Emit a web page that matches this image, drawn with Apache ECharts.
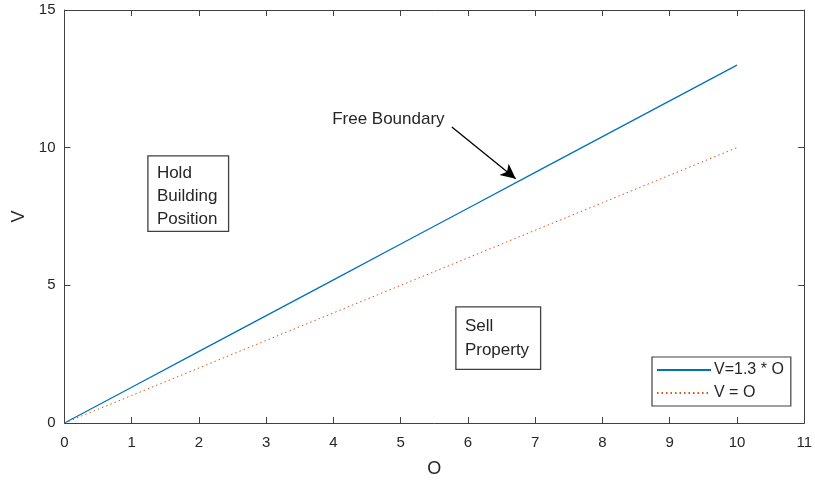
<!DOCTYPE html>
<html><head><meta charset="utf-8">
<script src="https://cdn.jsdelivr.net/npm/echarts@6/dist/echarts.min.js"></script>
<style>html,body{margin:0;padding:0;background:#fff}#c{width:815px;height:483px}</style>
</head><body><div id="c"></div>
<script>
var O = [0,1,2,3,4,5,6,7,8,9,10];
var V13 = [0,1.3,2.6,3.9,5.2,6.5,7.8,9.1,10.4,11.7,13];
var VO = [0,1,2,3,4,5,6,7,8,9,10];
var seriesNames = ['V=1.3 * O','V = O'];
var arrowFrom = [5.76,10.75], arrowTo = [6.71,8.87];
var freeLabelPos = [3.98,11.03];
var holdBox = [1.24,9.70,2.44,6.96];
var sellBox = [5.82,4.22,7.08,1.95];

var FONT = 'Liberation Sans, Arial, sans-serif';
var AX = '#262626';
var chart = echarts.init(document.getElementById('c'));
function pair(a,b){return a.map(function(v,i){return [v,b[i]];});}
function axisCommon(){ return {
  min:0, axisLine:{show:true,onZero:false,lineStyle:{color:'#404040',width:1}},
  axisTick:{show:true,inside:true,length:6,lineStyle:{color:'#404040'}},
  splitLine:{show:false}
};}
chart.setOption({
  animation:false,
  grid:{left:64.5,right:9.5,top:10,bottom:57,containLabel:false},
  xAxis:[
    Object.assign(axisCommon(),{type:'value',max:11,interval:1,position:'bottom',
      name:'O',nameLocation:'middle',nameGap:37,nameTextStyle:{color:AX,fontSize:18,fontFamily:FONT},
      axisLabel:{color:AX,fontSize:15,fontFamily:FONT,margin:12}}),
    Object.assign(axisCommon(),{type:'value',max:11,interval:1,position:'top',axisLabel:{show:false}})
  ],
  yAxis:[
    Object.assign(axisCommon(),{type:'value',max:15,interval:5,position:'left',
      name:'V',nameLocation:'middle',nameGap:35,nameTextStyle:{color:AX,fontSize:18,fontFamily:FONT},
      axisLabel:{color:AX,fontSize:15,fontFamily:FONT,margin:9}}),
    Object.assign(axisCommon(),{type:'value',max:15,interval:5,position:'right',axisLabel:{show:false}})
  ],
  legend:{
    show:true,orient:'vertical',left:652,top:357,
    data:seriesNames,
    backgroundColor:'#fff',
    borderColor:'#404040',borderWidth:1.2,borderRadius:0,
    padding:[5,7,5,4],itemGap:7,itemWidth:54,itemHeight:12,
    itemStyle:{opacity:0},
    textStyle:{color:AX,fontSize:16,fontFamily:FONT,padding:[0,0,0,-2]}
  },
  series:[
    {name:seriesNames[0],type:'line',data:pair(O,V13),symbol:'none',
      lineStyle:{color:'#0072BD',width:1.3},itemStyle:{color:'#0072BD'},
      markLine:{silent:true,symbol:['none','arrow'],symbolSize:[11,15],
        lineStyle:{color:'#000',width:1.3,type:'solid'},label:{show:false},
        data:[[{coord:arrowFrom},{coord:arrowTo}]]}},
    {name:seriesNames[1],type:'line',data:pair(O,VO),symbol:'none',
      lineStyle:{color:'#D95319',width:1,type:[1.5,3]},itemStyle:{color:'#D95319'}}
  ]
});
function px(p){return chart.convertToPixel({xAxisIndex:0,yAxisIndex:0},p);}
function box(b,lines,lh,pad){
  var a=px([b[0],b[1]]), c=px([b[2],b[3]]);
  return [
    {type:'rect',shape:{x:a[0],y:a[1],width:c[0]-a[0],height:c[1]-a[1]},style:{fill:'#fff',stroke:'#404040',lineWidth:1.3}},
    {type:'text',x:a[0]+pad[0],y:a[1]+pad[1],style:{text:lines.join('\n'),fill:'#262626',font:'17px '+FONT,lineHeight:lh,verticalAlign:'top'}}
  ];
}
var fl = px(freeLabelPos);
var g = [].concat(
  box(holdBox,['Hold','Building','Position'],23,[9,6]),
  box(sellBox,['Sell','Property'],24,[9,8]),
  [{type:'text',x:fl[0],y:fl[1],style:{text:'Free Boundary',fill:'#262626',font:'17px '+FONT,verticalAlign:'middle'}}]
);
chart.setOption({graphic:g});
</script></body></html>
